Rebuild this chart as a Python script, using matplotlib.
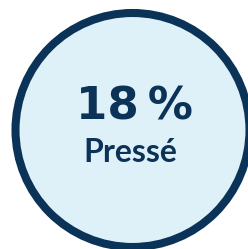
import matplotlib.pyplot as plt
from matplotlib.patches import Circle

value = 18
label = "Pressé"

navy = "#0b3358"
fill = "#dff1f8"


def main():
    fig = plt.figure(figsize=(2.48, 2.49), dpi=100)
    ax = fig.add_axes([0, 0, 1, 1])
    ax.set_xlim(0, 248)
    ax.set_ylim(249, 0)
    ax.axis("off")

    # outer radius ~121 px, border ~8 px
    circle = Circle((132.5, 130), 117, facecolor=fill, edgecolor=navy, linewidth=5.8)
    ax.add_patch(circle)

    ax.text(134, 119, f"{value}\u2009%", ha="center", va="baseline",
            fontsize=32.5, fontweight="bold", family="DejaVu Sans", color=navy)
    ax.text(130.5, 162, label, ha="center", va="baseline",
            fontsize=23, fontweight="bold", family="Lato", color=navy)

    fig.savefig("out.png", dpi=100, facecolor="white")


if __name__ == "__main__":
    main()
